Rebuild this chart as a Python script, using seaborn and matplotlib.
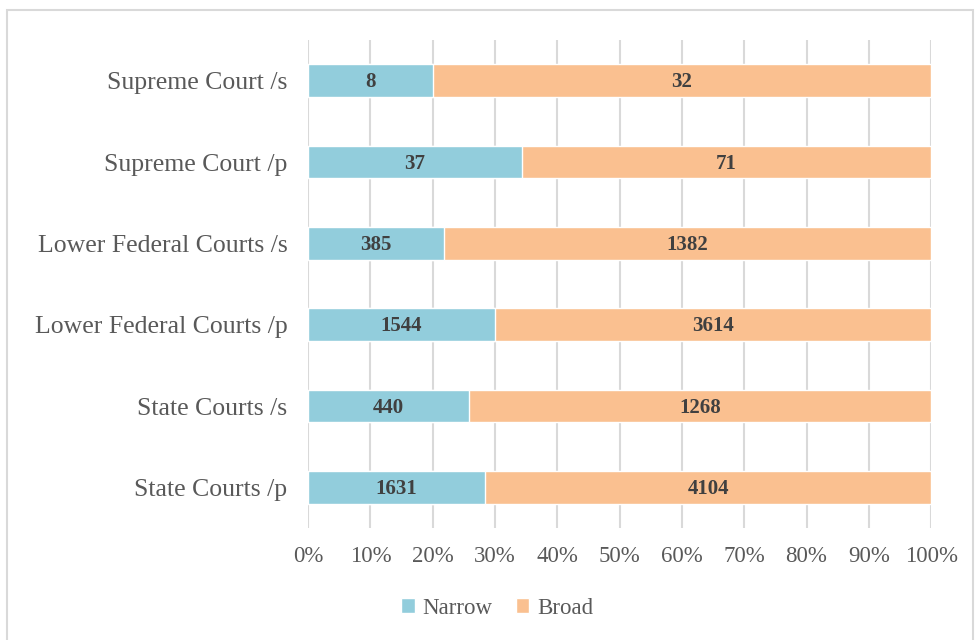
import matplotlib
matplotlib.use("Agg")
import matplotlib.pyplot as plt
import seaborn as sns
import pandas as pd
import numpy as np
from matplotlib.patches import Rectangle

categories = ["Supreme Court /s", "Supreme Court /p", "Lower Federal Courts /s",
              "Lower Federal Courts /p", "State Courts /s", "State Courts /p"]
narrow = [8, 37, 385, 1544, 440, 1631]
broad = [32, 71, 1382, 3614, 1268, 4104]
xticks = [0, 10, 20, 30, 40, 50, 60, 70, 80, 90, 100]

sns.set_theme(style="white")
plt.rcParams['font.family'] = ['Liberation Serif', 'DejaVu Serif']

df = pd.DataFrame({"cat": categories, "narrow": narrow, "broad": broad})
df["total"] = df["narrow"] + df["broad"]
df["narrow_pct"] = df["narrow"] / df["total"] * 100
df["full_pct"] = 100.0

fig = plt.figure(figsize=(9.75, 6.4), dpi=100)
ax = fig.add_axes([0.316, 0.175, 0.639, 0.7625])

c_narrow = "#92CDDC"
c_broad = "#FAC090"

sns.barplot(data=df, y="cat", x="full_pct", orient="h", color=c_broad,
            width=0.4, ax=ax, saturation=1, label="Broad", zorder=2)
sns.barplot(data=df, y="cat", x="narrow_pct", orient="h", color=c_narrow,
            width=0.4, ax=ax, saturation=1, label="Narrow", zorder=3)

for i, (n, b, p) in enumerate(zip(df["narrow"], df["broad"], df["narrow_pct"])):
    ax.text(p / 2, i + 0.02, str(n), ha="center", va="center", fontsize=15,
            fontweight="bold", color="#404040", zorder=4)
    ax.text(p + (100 - p) / 2, i + 0.02, str(b), ha="center", va="center", fontsize=15,
            fontweight="bold", color="#404040", zorder=4)

ax.set_xlim(0, 100)
ax.set_ylim(5.5, -0.5)
ax.set_xticks(xticks)
ax.set_xticklabels([f"{t}%" for t in xticks], fontsize=16.5, color="#595959")
ax.tick_params(axis="y", labelsize=18.5, labelcolor="#595959", length=0, pad=15)
ax.tick_params(axis="x", length=0, pad=13)
ax.set_xlabel("")
ax.set_ylabel("")
ax.grid(axis="x", color="#D9D9D9", linewidth=1.5, zorder=0)
ax.set_axisbelow(True)
for s in ax.spines.values():
    s.set_visible(False)

handles, labels = ax.get_legend_handles_labels()
if ax.get_legend() is not None:
    ax.get_legend().remove()
order = [labels.index("Narrow"), labels.index("Broad")]
leg = fig.legend([handles[i] for i in order], [labels[i] for i in order],
                 loc="center", bbox_to_anchor=(0.51, 0.05), ncol=2, frameon=False,
                 fontsize=16.5, handlelength=0.6, handleheight=0.6,
                 handletextpad=0.35, columnspacing=1.0)
for t in leg.get_texts():
    t.set_color("#595959")

fig.patches.append(Rectangle((7 / 975, -0.05), 966 / 975, 1.05 - 10 / 640,
                             transform=fig.transFigure, fill=False,
                             edgecolor="#D9D9D9", linewidth=1.5))

fig.savefig("out.png", dpi=100)
